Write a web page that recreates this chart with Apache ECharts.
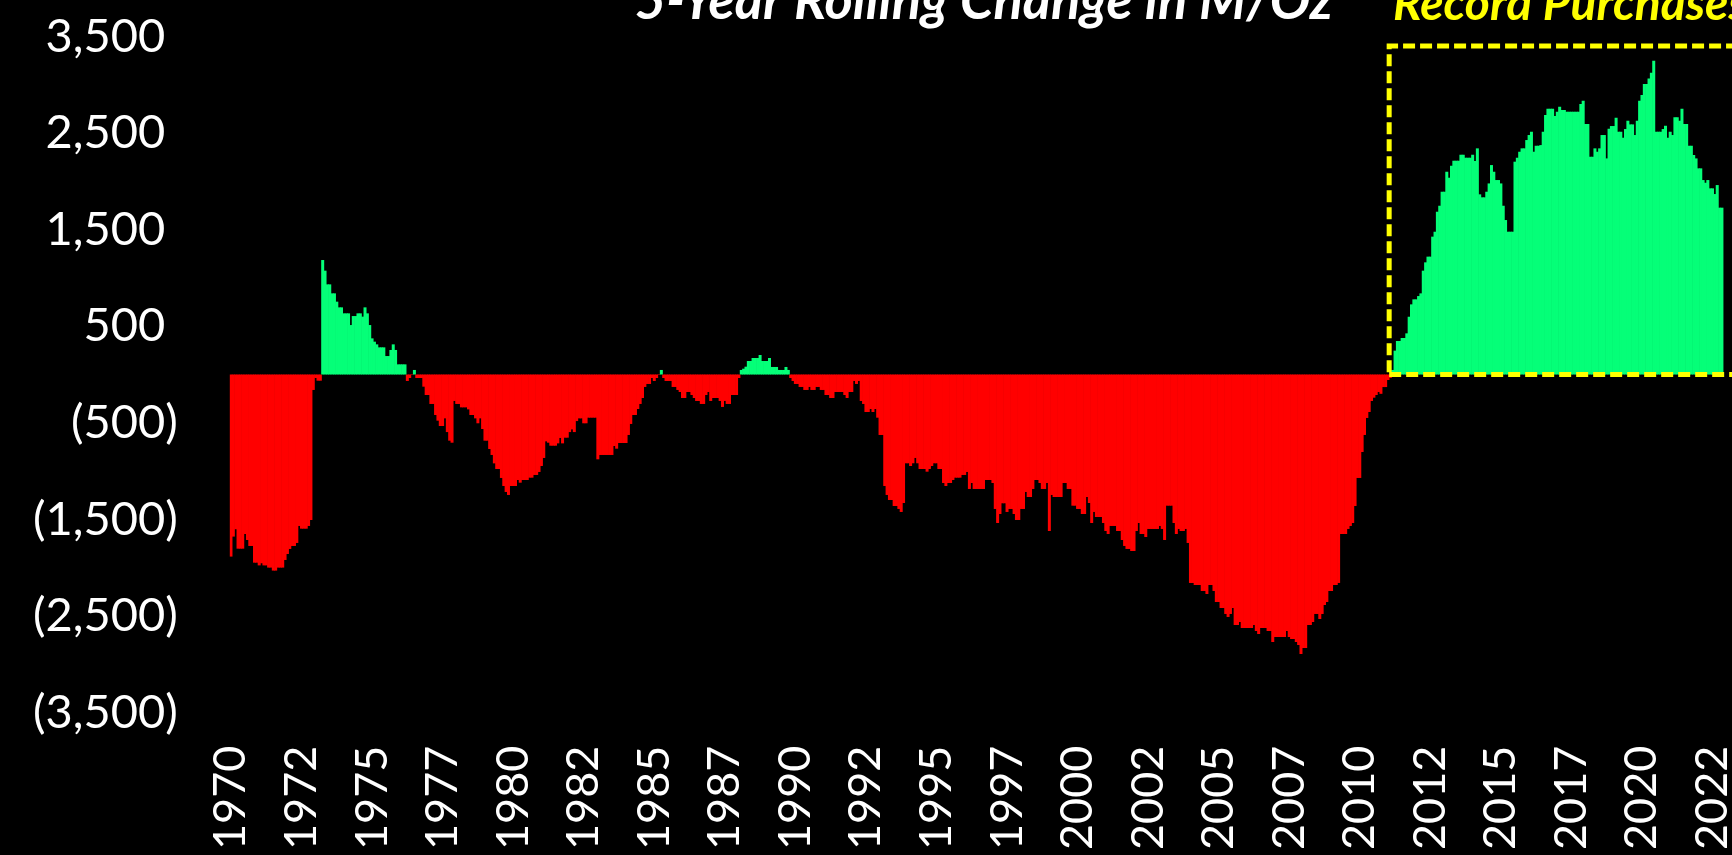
<!DOCTYPE html>
<html>
<head>
<meta charset="utf-8">
<script src="https://cdn.jsdelivr.net/npm/echarts@6/dist/echarts.min.js"></script>
<style>
  html, body { margin: 0; padding: 0; background: #000; }
  #chart { width: 1732px; height: 855px; }
</style>
</head>
<body>
<div id="chart"></div>
<script>
// ---- DATA (5-year rolling change, M/Oz, monthly from Jan 1970) ----
const chartTitle = '5-Year Rolling Change in M/Oz';
const boxTitle = 'Record Purchases';
const startYear = 1970;
const axisMonths = 660; // axis runs past the last data point (chart is cropped on the right)

const v1970s = [
  -1885,-1678,-1602,-1803,-1803,-1803,-1651,-1713,-1775,-1775,-1948,-1948,
  -1976,-1954,-1976,-1976,-1999,-1999,-2030,-2030,-1999,-1999,-1999,-1920,
  -1858,-1806,-1775,-1775,-1744,-1568,-1596,-1596,-1596,-1568,-1506,-160,
  -36,-64,-64,1185,1075,933,933,840,840,754,695,695,
  633,633,633,512,605,605,633,633,599,695,633,512,
  374,340,312,281,281,281,191,191,254,312,254,105,
  105,105,105,-67,-36,-5,47,-36,-36,-36,-126,-212,
  -212,-305,-305,-419,-478,-533,-533,-454,-596,-685,-706,-274,
  -305,-305,-340,-340,-340,-361,-419,-419,-454,-505,-454,-564,
  -685,-685,-771,-833,-920,-978,-978,-1071,-1154,-1216,-1247,-1154
];
const v1980s = [
  -1154,-1154,-1092,-1120,-1092,-1092,-1092,-1068,-1068,-1040,-1040,-1009,
  -947,-864,-692,-706,-737,-737,-737,-713,-657,-713,-654,-654,
  -596,-568,-596,-482,-454,-454,-505,-505,-447,-447,-447,-447,
  -878,-833,-833,-833,-833,-833,-833,-740,-768,-709,-709,-709,
  -709,-626,-512,-419,-419,-357,-305,-243,-129,-98,-98,-36,
  -67,-36,-5,47,-36,-67,-67,-67,-129,-129,-160,-181,
  -243,-243,-181,-181,-212,-243,-274,-274,-305,-305,-212,-181,
  -274,-243,-243,-243,-274,-336,-274,-305,-305,-212,-212,-212,
  -36,47,60,81,140,140,171,171,171,202,140,140,
  140,171,78,78,78,47,47,47,78,47,-36,-67
];
const v1990s = [
  -98,-98,-129,-129,-160,-160,-129,-160,-160,-129,-129,-160,
  -160,-212,-212,-243,-243,-181,-181,-181,-181,-212,-243,-181,
  -181,-67,-98,-67,-274,-305,-388,-388,-357,-388,-357,-447,
  -626,-626,-1154,-1247,-1299,-1299,-1361,-1361,-1392,-1423,-1330,-919,
  -919,-947,-919,-864,-919,-978,-978,-978,-1006,-978,-947,-919,
  -919,-978,-978,-1123,-1154,-1123,-1123,-1092,-1068,-1068,-1068,-1040,
  -1040,-1009,-1185,-1123,-1185,-1185,-1185,-1185,-1185,-1092,-1092,-1092,
  -1123,-1392,-1537,-1444,-1333,-1333,-1423,-1392,-1392,-1444,-1506,-1506,
  -1392,-1392,-1216,-1268,-1268,-1185,-1092,-1092,-1123,-1185,-1185,-1123,
  -1620,-1247,-1268,-1268,-1268,-1268,-1123,-1123,-1185,-1185,-1358,-1358
];
const v2000s = [
  -1392,-1392,-1444,-1444,-1268,-1330,-1537,-1423,-1475,-1475,-1475,-1537,
  -1620,-1651,-1568,-1568,-1568,-1620,-1620,-1713,-1775,-1806,-1806,-1827,
  -1827,-1620,-1537,-1651,-1651,-1682,-1599,-1599,-1599,-1599,-1599,-1568,
  -1599,-1713,-1358,-1358,-1358,-1537,-1651,-1599,-1620,-1620,-1599,-1744,
  -2158,-2158,-2179,-2179,-2179,-2241,-2241,-2272,-2179,-2179,-2241,-2355,
  -2355,-2417,-2417,-2479,-2510,-2479,-2417,-2593,-2593,-2562,-2624,-2624,
  -2624,-2624,-2624,-2593,-2655,-2686,-2624,-2624,-2624,-2655,-2655,-2769,
  -2717,-2717,-2717,-2717,-2717,-2655,-2717,-2738,-2738,-2769,-2800,-2893,
  -2831,-2831,-2593,-2593,-2562,-2479,-2479,-2531,-2479,-2386,-2355,-2241,
  -2241,-2179,-2179,-2158,-1651,-1651,-1651,-1599,-1568,-1537,-1361,-1071
];
const v2010s = [
  -1071,-802,-626,-450,-388,-274,-240,-212,-181,-200,-130,-130,
  -57,-36,47,247,347,347,378,378,426,598,726,778,
  778,812,840,1075,1161,1220,1220,1427,1478,1685,1747,1892,
  1892,2099,2037,2161,2213,2213,2213,2275,2275,2244,2244,2244,
  2275,2210,2341,1865,1834,1834,1892,1978,2168,2099,2013,2013,
  1978,1747,1599,1478,1478,1478,2203,2244,2306,2341,2341,2427,
  2479,2513,2306,2368,2368,2375,2513,2686,2751,2751,2751,2675,
  2720,2772,2738,2738,2720,2720,2720,2720,2720,2720,2800,2834,
  2593,2593,2254,2254,2341,2306,2341,2479,2479,2237,2544,2572,
  2572,2658,2513,2513,2451,2541,2627,2589,2589,2479,2627,2834
];
const v2020s = [
  2893,3007,3007,3065,3124,3248,2513,2513,2513,2541,2575,2451,
  2513,2479,2662,2662,2627,2751,2593,2593,2368,2368,2272,2237,
  2134,2134,2013,1985,2013,1927,1927,1868,1961,1727,1727
];

const yTicks = [-3500, -2500, -1500, -500, 500, 1500, 2500, 3500];
const yTickLabels = ['(3,500)', '(2,500)', '(1,500)', '(500)', '500', '1,500', '2,500', '3,500'];

// record-purchase box: from Feb 2011 to the (cropped) end of the axis, up to 3,400
const boxStart = '2011-02';
const boxTop = 3400;

// ---- BUILD ----
const values = [].concat(v1970s, v1980s, v1990s, v2000s, v2010s, v2020s);
const categories = [];
for (let i = 0; i < axisMonths; i++) {
  const y = startYear + Math.floor(i / 12);
  const m = (i % 12) + 1;
  categories.push(y + '-' + (m < 10 ? '0' + m : '' + m));
}
const negData = values.map(v => (v <= 0 ? v : null));
const posData = values.map(v => (v > 0 ? v : null));

const RED = '#FF0000';
const GREEN = '#05FF78';
const FONT = 'Lato';

const chart = echarts.init(document.getElementById('chart'), null, { renderer: 'canvas' });
chart.setOption({
  backgroundColor: '#000000',
  animation: false,
  graphic: [
    {
      type: 'text', x: 984, y: 2, silent: true,
      style: { text: chartTitle, fill: '#FFFFFF', font: 'italic bold 54px Lato',
               textAlign: 'center', textVerticalAlign: 'middle' }
    },
    {
      type: 'text', x: 1393, y: 5, silent: true,
      style: { text: boxTitle, fill: '#FFFF00', font: 'italic bold 48px Lato',
               textAlign: 'left', textVerticalAlign: 'middle' }
    }
  ],
  grid: {
    left: 229.8, top: 36.4, bottom: 142.4, right: -49.9,
    containLabel: false, outerBoundsMode: 'none'
  },
  xAxis: {
    type: 'category',
    data: categories,
    boundaryGap: true,
    axisLine: { show: false },
    axisTick: { show: false, interval: 0 },
    splitLine: { show: false },
    axisLabel: {
      interval: 29, rotate: 90, margin: 33,
      padding: [8, 0, 0, 0],
      color: '#FFFFFF', fontFamily: FONT, fontSize: 45,
      formatter: v => v.slice(0, 4)
    }
  },
  yAxis: {
    type: 'value',
    min: -3500, max: 3500, interval: 1000,
    axisLine: { show: false },
    axisTick: { show: false },
    splitLine: { show: false },
    axisLabel: {
      margin: 52,
      formatter: v => {
        const s = yTickLabels[yTicks.indexOf(v)];
        return v < 0 ? '{n|' + s + '}' : '{n|' + s + '}{p|)}';
      },
      rich: {
        n: { color: '#FFFFFF', fontFamily: FONT, fontSize: 47 },
        p: { color: 'rgba(0,0,0,0)', fontFamily: FONT, fontSize: 47 }
      }
    }
  },
  series: [
    {
      name: 'Negative', type: 'bar', data: negData,
      barWidth: 3, barGap: '-100%',
      itemStyle: { color: RED },
      z: 2
    },
    {
      name: 'Positive', type: 'bar', data: posData,
      barWidth: 3, barGap: '-100%',
      itemStyle: { color: GREEN },
      z: 2,
      markArea: {
        silent: true, z: 10,
        label: { show: false },
        itemStyle: { color: 'rgba(0,0,0,0)', borderColor: '#FFFF00', borderWidth: 5, borderType: [12, 5] },
        data: [[ { xAxis: boxStart, yAxis: 0 }, { xAxis: categories[categories.length - 1], yAxis: boxTop } ]]
      }
    }
  ]
});
</script>
</body>
</html>
